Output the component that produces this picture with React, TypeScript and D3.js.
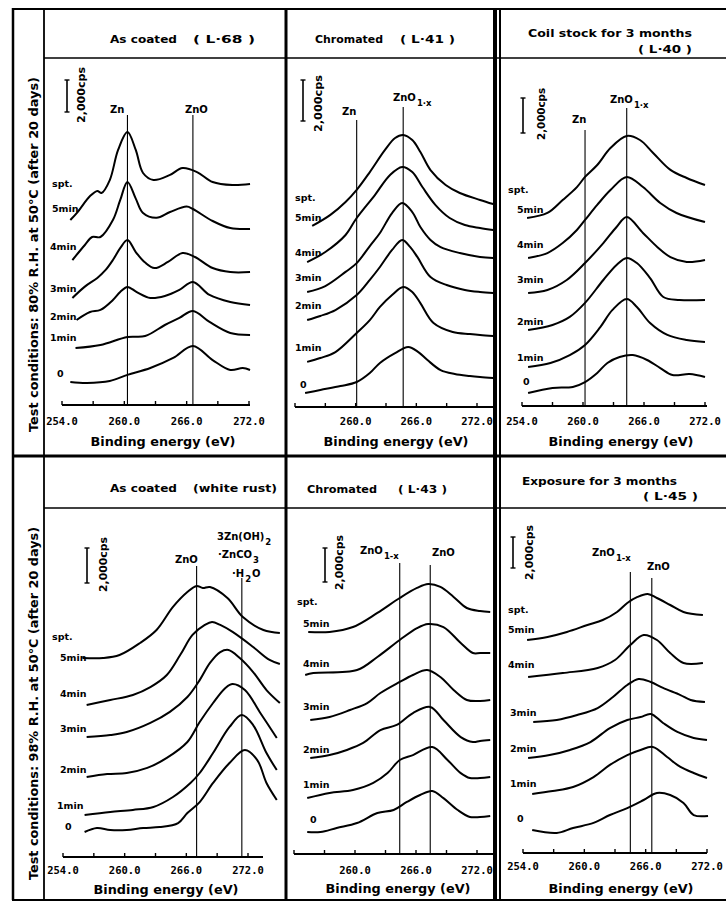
import * as d3 from "d3";
import { useEffect, useRef } from "react";

// sputtering time of each spectrum, top curve first
const sputterTimes = ["5min", "4min", "3min", "2min", "1min", "0"];
const energyTicks = [254, 257, 260, 263, 266, 269, 272];
const energyLabels = [254, 260, 266, 272];

// each curve: [binding energy (eV), intensity above the axis (x1000 cps)]
const asCoatedL68 = [
    [[254.8, 11.56], [255.5, 12.06], [256.7, 13.06], [257.4, 13.38], [257.8, 13.25], [258.6, 14.06], [259.4, 15.94], [260.3, 17.06], [261.1, 15.94], [261.8, 14.5], [262.8, 14.06], [264.4, 14.38], [265.6, 14.81], [267.0, 14.56], [268.5, 13.94], [270.4, 13.75], [272.1, 13.81]],
    [[255.0, 9.06], [256.2, 10.0], [256.9, 10.5], [257.7, 10.5], [258.9, 11.56], [259.6, 12.8], [260.3, 13.94], [261.1, 12.9], [261.8, 12.0], [263.1, 11.7], [264.4, 12.06], [266.0, 12.4], [266.6, 12.25], [268.5, 11.5], [270.2, 11.06], [272.1, 11.0]],
    [[255.0, 6.69], [256.2, 7.4], [257.4, 7.94], [258.2, 8.44], [258.9, 9.06], [259.6, 9.8], [260.3, 10.31], [261.1, 9.56], [262.0, 8.9], [262.9, 8.56], [264.2, 8.94], [265.6, 9.5], [266.8, 9.25], [268.5, 8.56], [270.2, 8.31], [272.1, 8.31]],
    [[255.4, 5.31], [256.7, 5.81], [257.7, 5.94], [258.9, 6.56], [259.6, 7.06], [260.3, 7.38], [261.2, 7.06], [262.5, 6.69], [263.9, 6.81], [265.3, 7.19], [266.6, 7.69], [268.2, 6.88], [270.2, 6.44], [272.1, 6.25]],
    [[255.3, 3.56], [257.7, 3.75], [260.3, 4.25], [262.0, 4.31], [263.9, 5.0], [265.3, 5.44], [266.6, 5.88], [268.2, 5.19], [270.2, 4.5], [272.1, 4.38]],
    [[254.8, 1.44], [256.4, 1.38], [258.6, 1.5], [260.3, 1.88], [262.5, 2.31], [264.7, 2.94], [266.6, 3.69], [268.5, 2.81], [270.2, 2.19], [271.4, 2.31], [272.1, 2.19]],
];

const chromatedL41 = [
    [[255.7, 8.83], [257.5, 9.37], [259.0, 10.0], [260.1, 10.59], [261.4, 11.46], [262.9, 12.54], [263.9, 13.12], [264.7, 13.27], [265.6, 13.02], [266.4, 12.44], [267.4, 11.56], [268.9, 10.83], [270.3, 10.44], [272.3, 10.1], [273.6, 9.9]],
    [[255.2, 7.07], [257.0, 7.56], [259.0, 8.39], [260.1, 9.22], [261.9, 10.34], [263.4, 11.32], [264.6, 11.71], [265.6, 11.46], [266.6, 10.73], [267.9, 9.85], [269.3, 9.22], [270.8, 8.88], [272.3, 8.73], [273.6, 8.63]],
    [[255.2, 5.61], [257.0, 5.9], [259.0, 6.59], [260.1, 7.02], [261.4, 7.85], [262.4, 8.49], [263.6, 9.46], [264.6, 9.95], [265.6, 9.51], [266.4, 8.78], [267.4, 8.15], [268.4, 7.8], [270.3, 7.51], [272.3, 7.32], [273.6, 7.27]],
    [[255.2, 4.24], [256.5, 4.44], [258.0, 4.73], [260.1, 5.46], [261.4, 6.2], [262.4, 6.83], [263.6, 7.66], [264.6, 8.15], [265.4, 7.8], [266.1, 7.32], [267.4, 6.34], [269.0, 5.95], [270.8, 5.71], [272.3, 5.61], [273.6, 5.56]],
    [[255.2, 2.2], [256.5, 2.39], [258.0, 2.68], [260.1, 3.61], [261.4, 4.24], [262.4, 4.88], [263.6, 5.46], [264.7, 5.85], [265.6, 5.61], [266.4, 5.07], [267.7, 4.1], [269.6, 3.66], [271.3, 3.56], [272.3, 3.51], [273.6, 3.46]],
    [[255.0, 0.68], [256.5, 0.83], [258.5, 1.02], [260.1, 1.22], [261.4, 1.66], [262.4, 2.15], [263.9, 2.63], [265.2, 2.93], [266.2, 2.68], [267.1, 2.29], [268.4, 1.8], [269.8, 1.61], [271.3, 1.51], [272.3, 1.46], [273.6, 1.41]],
];

const coilStockL40 = [
    [[254.5, 10.74], [256.5, 11.03], [258.0, 11.77], [259.4, 12.51], [260.2, 13.09], [261.4, 13.77], [262.7, 14.74], [264.3, 15.43], [265.6, 15.2], [266.9, 14.46], [268.6, 13.49], [270.2, 13.03], [272.0, 12.63]],
    [[254.6, 8.46], [256.5, 8.74], [258.0, 9.31], [259.4, 10.06], [260.2, 10.63], [261.4, 11.49], [262.7, 12.34], [264.3, 13.09], [265.9, 12.51], [267.6, 11.6], [269.2, 11.03], [272.0, 10.51]],
    [[254.6, 6.46], [256.5, 6.63], [258.4, 7.2], [260.2, 8.17], [262.0, 9.31], [263.3, 10.23], [264.3, 10.8], [265.9, 9.89], [267.3, 9.09], [268.6, 8.51], [270.2, 8.23], [272.0, 8.34]],
    [[254.6, 4.34], [257.0, 4.63], [258.7, 5.09], [260.2, 5.89], [262.0, 7.2], [263.3, 8.06], [264.3, 8.46], [265.3, 8.17], [266.6, 7.31], [267.9, 6.23], [269.5, 6.06], [272.0, 6.06]],
    [[254.6, 2.23], [256.8, 2.46], [258.7, 2.91], [260.2, 3.49], [261.7, 4.51], [262.9, 5.49], [264.3, 6.11], [265.3, 5.66], [266.6, 4.74], [268.3, 4.06], [270.2, 3.77], [272.0, 3.66]],
    [[254.6, 0.74], [257.0, 1.03], [259.0, 1.09], [260.2, 1.37], [261.4, 1.89], [262.4, 2.46], [263.6, 2.8], [264.9, 2.91], [266.3, 2.63], [267.6, 2.17], [268.8, 1.77], [270.5, 1.83], [272.0, 1.66]],
];

const asCoatedWhiteRust = [
    [[255.9, 11.37], [257.9, 11.37], [259.5, 11.54], [261.5, 12.23], [263.1, 12.97], [264.7, 14.29], [266.1, 15.14], [267.0, 15.49], [267.6, 15.37], [268.3, 15.43], [270.0, 14.8], [271.5, 13.71], [273.5, 12.97], [275.1, 12.8]],
    [[256.3, 8.69], [258.6, 8.97], [260.8, 9.26], [262.5, 9.71], [264.1, 10.4], [265.4, 11.54], [266.6, 12.69], [267.8, 13.26], [268.5, 13.43], [269.3, 13.26], [270.5, 12.86], [272.5, 12.0], [274.1, 11.26], [275.1, 11.03]],
    [[256.3, 6.86], [258.6, 6.97], [260.2, 7.14], [262.5, 7.66], [264.4, 8.29], [266.1, 9.14], [267.3, 10.11], [268.3, 11.09], [269.3, 11.71], [270.1, 11.83], [271.2, 11.37], [272.5, 10.57], [273.8, 9.54], [275.1, 8.8]],
    [[256.3, 4.57], [258.3, 4.74], [260.2, 4.8], [262.2, 5.09], [264.1, 5.66], [266.1, 6.57], [267.3, 7.71], [268.6, 8.8], [269.8, 9.66], [270.5, 9.89], [271.7, 9.54], [273.2, 8.23], [274.8, 6.8]],
    [[256.1, 2.4], [258.6, 2.57], [260.8, 2.69], [262.8, 2.86], [264.7, 3.43], [266.4, 4.23], [267.3, 4.8], [268.6, 5.94], [270.2, 7.43], [271.4, 8.11], [272.5, 7.54], [273.8, 5.94], [274.8, 4.97]],
    [[256.1, 1.43], [257.3, 1.66], [258.6, 1.54], [260.2, 1.54], [261.8, 1.66], [263.4, 1.71], [265.2, 1.94], [266.1, 2.51], [267.3, 3.14], [268.6, 4.23], [270.2, 5.37], [271.7, 6.11], [272.9, 5.54], [273.8, 4.23], [274.8, 3.26]],
];

const chromatedL43 = [
    [[255.4, 13.06], [257.5, 13.06], [259.8, 13.35], [262.2, 14.18], [264.4, 15.06], [266.1, 15.65], [267.2, 15.88], [268.4, 15.71], [269.7, 15.12], [271.0, 14.47], [272.3, 14.29], [273.3, 14.24]],
    [[255.1, 10.53], [255.9, 10.65], [260.2, 10.82], [262.2, 11.59], [264.4, 12.59], [266.1, 13.29], [267.2, 13.53], [268.7, 13.35], [270.4, 12.41], [271.6, 11.82], [272.3, 11.82], [273.3, 11.82]],
    [[255.6, 7.88], [257.5, 8.06], [259.5, 8.47], [261.2, 8.88], [262.5, 9.47], [264.4, 10.12], [265.7, 10.53], [267.1, 10.82], [268.4, 10.41], [269.7, 9.65], [271.0, 9.06], [272.3, 9.0], [273.3, 9.06]],
    [[255.6, 5.65], [257.5, 5.82], [259.2, 6.12], [260.8, 6.53], [262.5, 7.29], [264.1, 7.59], [265.7, 8.29], [267.4, 8.65], [268.7, 7.88], [270.4, 6.88], [271.6, 6.59], [272.3, 6.65], [273.3, 6.71]],
    [[255.3, 3.29], [257.5, 3.59], [259.8, 3.76], [261.8, 4.18], [263.2, 4.76], [264.4, 5.53], [265.7, 5.82], [267.6, 6.29], [269.1, 5.53], [270.4, 4.76], [271.3, 4.47], [272.3, 4.47], [273.3, 4.53]],
    [[255.3, 1.29], [256.6, 1.29], [258.2, 1.53], [260.2, 1.82], [262.2, 2.41], [263.8, 2.59], [265.1, 3.06], [266.4, 3.47], [267.6, 3.71], [268.7, 3.29], [270.1, 2.59], [271.3, 2.18], [272.3, 2.18], [273.3, 2.24]],
];

const exposureL45 = [
    [[254.4, 13.74], [256.4, 13.94], [258.3, 14.26], [260.3, 14.71], [261.8, 15.03], [263.2, 15.55], [264.2, 16.13], [265.2, 16.52], [266.2, 16.71], [267.1, 16.45], [268.4, 16.0], [269.7, 15.55], [271.6, 15.35]],
    [[254.5, 11.35], [257.9, 11.61], [261.3, 11.94], [263.0, 12.45], [264.5, 13.42], [265.8, 14.06], [267.1, 13.74], [268.4, 12.9], [269.7, 12.26], [271.6, 12.26]],
    [[255.0, 8.45], [257.3, 8.58], [259.3, 8.9], [261.3, 9.35], [262.8, 10.06], [264.2, 10.84], [265.3, 11.23], [266.5, 11.03], [267.7, 10.65], [269.4, 10.19], [270.4, 9.87], [271.8, 9.74]],
    [[254.5, 6.13], [256.6, 6.32], [258.6, 6.65], [260.6, 7.16], [262.5, 8.06], [264.2, 8.58], [265.5, 8.77], [266.5, 8.97], [267.7, 8.39], [269.1, 7.81], [270.7, 7.42], [272.0, 7.29]],
    [[254.9, 3.81], [256.9, 4.0], [258.9, 4.26], [260.9, 4.9], [262.5, 5.68], [264.2, 6.32], [265.5, 6.65], [266.7, 6.84], [268.1, 6.19], [269.4, 5.55], [270.7, 5.16], [272.0, 4.84]],
    [[254.9, 1.48], [257.3, 1.29], [258.9, 1.61], [260.9, 1.94], [262.5, 2.45], [264.2, 2.9], [265.8, 3.42], [267.1, 3.87], [268.4, 3.74], [269.7, 3.23], [270.7, 2.45], [272.1, 2.39]],
];

const SANS = "'DejaVu Sans', sans-serif";
const MONO = "'DejaVu Sans Mono', monospace";

const panels = [
    {
        curves: asCoatedL68, x0: 62, x1: 249, axisY: 405, axisEnd: 250, bar: 32, labels: energyLabels,
        tickGap: 20, xTitle: [163, 446],
        titles: [["As coated", 110, 43, 67], ["( L·68 )", 193, 43, 62]],
        refs: [{ e: 260.3, top: 115 }, { e: 266.6, top: 115 }],
        marks: [["Zn", "", 110, 113], ["ZnO", "", 185, 113]],
        scale: { x: 67, top: 80, tx: 85, ty: 123, tl: 56 },
        times: [[52, 187], [52, 212], [50, 250], [50, 292], [50, 320], [50, 341], [57, 377]],
    },
    {
        curves: chromatedL41, x0: 295, x1: 477, axisY: 407, axisEnd: 493, bar: 41, labels: [260, 266, 272],
        tickGap: 18, xTitle: [396, 446],
        titles: [["Chromated", 315, 43, 68], ["( L·41 )", 400, 43, 55]],
        refs: [{ e: 260.1, top: 120 }, { e: 264.7, top: 107 }],
        marks: [["Zn", "", 342, 115], ["ZnO", "1·x", 393, 101]],
        scale: { x: 303, top: 80, tx: 322, ty: 132, tl: 57 },
        times: [[295, 201], [295, 221], [295, 256], [295, 281], [295, 309], [295, 351], [300, 388]],
    },
    {
        curves: coilStockL40, x0: 522, x1: 705, axisY: 406, axisEnd: 707, bar: 35, labels: energyLabels,
        tickGap: 19, xTitle: [621, 446],
        titles: [["Coil stock for 3 months", 528, 37, 164], ["( L·40 )", 638, 53, 54]],
        refs: [{ e: 260.2, top: 130 }, { e: 264.3, top: 108 }],
        marks: [["Zn", "", 572, 123], ["ZnO", "1·x", 610, 103]],
        scale: { x: 523, top: 98, tx: 545, ty: 140, tl: 52 },
        times: [[508, 193], [517, 213], [517, 248], [517, 283], [517, 325], [517, 361], [523, 385]],
    },
    {
        curves: asCoatedWhiteRust, x0: 63, x1: 248, axisY: 857, axisEnd: 263, bar: 35, labels: energyLabels,
        tickGap: 17, xTitle: [166, 894],
        titles: [["As coated", 110, 492, 67], ["(white rust)", 193, 492, 84]],
        refs: [{ e: 267.0, top: 566 }, { e: 271.4, top: 578 }],
        marks: [["ZnO", "", 175, 563], ["3Zn(OH)", "2", 217, 540], ["·ZnCO", "3", 218, 558], ["·H", "2", 232, 577, "O"]],
        scale: { x: 87, top: 548, tx: 107, ty: 592, tl: 55 },
        times: [[52, 640], [60, 661], [60, 697], [60, 732], [60, 773], [57, 809], [65, 830]],
    },
    {
        curves: chromatedL43, x0: 294, x1: 477, axisY: 854, axisEnd: 493, bar: 34, labels: [260, 266, 272],
        tickGap: 20, xTitle: [398, 893],
        titles: [["Chromated", 307, 493, 70], ["( L·43 )", 398, 493, 49]],
        refs: [{ e: 264.4, top: 563 }, { e: 267.4, top: 565 }],
        marks: [["ZnO", "1-x", 360, 554], ["ZnO", "", 432, 556]],
        scale: { x: 325, top: 548, tx: 343, ty: 590, tl: 55 },
        times: [[297, 605], [303, 627], [303, 667], [303, 710], [303, 753], [303, 788], [310, 823]],
    },
    {
        curves: exposureL45, x0: 523, x1: 707, axisY: 853, axisEnd: 707, bar: 31, labels: energyLabels,
        tickGap: 17, xTitle: [621, 893],
        titles: [["Exposure for 3 months", 522, 485, 155], ["( L·45 )", 643, 500, 55]],
        refs: [{ e: 264.5, top: 572 }, { e: 266.6, top: 578 }],
        marks: [["ZnO", "1-x", 592, 556], ["ZnO", "", 647, 570]],
        scale: { x: 513, top: 537, tx: 533, ty: 580, tl: 55 },
        times: [[508, 613], [508, 633], [508, 668], [510, 716], [510, 752], [510, 787], [517, 822]],
    },
];

const sideLabels = [
    ["Test conditions:  80% R.H. at 50°C  (after 20 days)", 432, 355],
    ["Test conditions:  98% R.H. at 50°C  (after 20 days)", 880, 353],
];

const App = () => {
    const ref = useRef(null);

    useEffect(() => {
        renderFigure(ref.current);
    }, []);

    return (
        <svg ref={ref} width="726" height="902" style={{ position: "absolute", left: 0, top: 0 }} />
    );
};

var renderFigure = (node) => {
    const svg = d3.select(node);
    svg.selectAll("*").remove();
    svg.append("rect").attr("width", 726).attr("height", 902).attr("fill", "#fff");

    panels.forEach(p => {
        const xScale = d3.scaleLinear().domain([254, 272]).range([p.x0, p.x1]);
        // bar in the corner is 2,000 cps
        const yScale = d3.scaleLinear().domain([0, 2]).range([p.axisY, p.axisY - p.bar]);
        const g = svg.append("g");

        p.titles.forEach(t => {
            g.append("text")
                .attr("x", t[1]).attr("y", t[2])
                .attr("textLength", t[3]).attr("lengthAdjust", "spacingAndGlyphs")
                .attr("font-family", SANS).attr("font-weight", "bold").attr("font-size", 11)
                .text(t[0]);
        });

        // energy axis
        g.append("line")
            .attr("x1", xScale(254)).attr("x2", p.axisEnd)
            .attr("y1", p.axisY).attr("y2", p.axisY)
            .attr("stroke", "#000").attr("stroke-width", 1.8);
        energyTicks.forEach(t => {
            g.append("line")
                .attr("x1", xScale(t)).attr("x2", xScale(t))
                .attr("y1", p.axisY).attr("y2", p.axisY - 4)
                .attr("stroke", "#000").attr("stroke-width", 1.4);
        });
        p.labels.forEach(t => {
            g.append("text")
                .attr("x", xScale(t)).attr("y", p.axisY + p.tickGap)
                .attr("text-anchor", "middle")
                .attr("font-family", MONO).attr("font-weight", "bold").attr("font-size", 10.5)
                .text(t.toFixed(1));
        });
        g.append("text")
            .attr("x", p.xTitle[0]).attr("y", p.xTitle[1])
            .attr("text-anchor", "middle")
            .attr("textLength", 145).attr("lengthAdjust", "spacingAndGlyphs")
            .attr("font-family", SANS).attr("font-weight", "bold").attr("font-size", 11.5)
            .text("Binding energy (eV)");

        // peak position lines
        p.refs.forEach(r => {
            g.append("line")
                .attr("x1", xScale(r.e)).attr("x2", xScale(r.e))
                .attr("y1", r.top).attr("y2", p.axisY)
                .attr("stroke", "#000").attr("stroke-width", 1.1);
        });
        p.marks.forEach(m => {
            const txt = g.append("text")
                .attr("x", m[2]).attr("y", m[3])
                .attr("font-family", SANS).attr("font-weight", "bold").attr("font-size", 10);
            txt.append("tspan").text(m[0]);
            if (m[1]) {
                txt.append("tspan").attr("dy", 5).attr("dx", 1).attr("font-size", 8.5).text(m[1]);
            }
            if (m[4]) {
                txt.append("tspan").attr("dy", -5).attr("dx", 1).text(m[4]);
            }
        });

        // 2,000 cps bar
        const sy1 = p.scale.top, sy2 = p.scale.top + (yScale(0) - yScale(2));
        g.append("line").attr("x1", p.scale.x).attr("x2", p.scale.x).attr("y1", sy1).attr("y2", sy2)
            .attr("stroke", "#000").attr("stroke-width", 1.6);
        [sy1, sy2].forEach(v => {
            g.append("line").attr("x1", p.scale.x - 2.5).attr("x2", p.scale.x + 2.5).attr("y1", v).attr("y2", v)
                .attr("stroke", "#000").attr("stroke-width", 1.4);
        });
        g.append("text")
            .attr("transform", "translate(" + p.scale.tx + "," + p.scale.ty + ") rotate(-90)")
            .attr("textLength", p.scale.tl).attr("lengthAdjust", "spacingAndGlyphs")
            .attr("font-family", SANS).attr("font-weight", "bold").attr("font-size", 10)
            .text("2,000cps");

        // spectra
        const line = d3.line()
            .x(d => xScale(d[0]))
            .y(d => yScale(d[1]))
            .curve(d3.curveCatmullRom.alpha(0.5));
        g.selectAll("path.spectrum")
            .data(p.curves)
            .enter().append("path")
            .attr("class", "spectrum")
            .attr("d", d => line(d))
            .attr("fill", "none")
            .attr("stroke", "#000")
            .attr("stroke-width", 2)
            .attr("stroke-linejoin", "round");

        ["spt."].concat(sputterTimes).forEach((s, k) => {
            g.append("text")
                .attr("x", p.times[k][0]).attr("y", p.times[k][1])
                .attr("font-family", SANS).attr("font-weight", "bold").attr("font-size", 9.5)
                .text(s);
        });
    });

    sideLabels.forEach(s => {
        svg.append("text")
            .attr("transform", "translate(38," + s[1] + ") rotate(-90)")
            .attr("textLength", s[2]).attr("lengthAdjust", "spacingAndGlyphs")
            .attr("font-family", SANS).attr("font-weight", "bold").attr("font-size", 11.5)
            .text(s[0]);
    });

    // frame
    const frame = svg.append("g").attr("stroke", "#000").attr("fill", "none");
    frame.append("line").attr("x1", 13).attr("x2", 13).attr("y1", 8).attr("y2", 900).attr("stroke-width", 2.5);
    frame.append("line").attr("x1", 44).attr("x2", 44).attr("y1", 8).attr("y2", 900).attr("stroke-width", 1.8);
    frame.append("line").attr("x1", 12).attr("x2", 726).attr("y1", 9).attr("y2", 9).attr("stroke-width", 2);
    frame.append("line").attr("x1", 44).attr("x2", 726).attr("y1", 58).attr("y2", 58).attr("stroke-width", 1.6);
    frame.append("line").attr("x1", 12).attr("x2", 726).attr("y1", 456).attr("y2", 456).attr("stroke-width", 3);
    frame.append("line").attr("x1", 44).attr("x2", 726).attr("y1", 508).attr("y2", 508).attr("stroke-width", 1.6);
    frame.append("line").attr("x1", 12).attr("x2", 726).attr("y1", 900).attr("y2", 900).attr("stroke-width", 2);
    frame.append("line").attr("x1", 286).attr("x2", 286).attr("y1", 8).attr("y2", 900).attr("stroke-width", 3);
    frame.append("line").attr("x1", 495).attr("x2", 495).attr("y1", 8).attr("y2", 900).attr("stroke-width", 4);
    frame.append("line").attr("x1", 500).attr("x2", 500).attr("y1", 8).attr("y2", 900).attr("stroke-width", 2);
};

export default App;
